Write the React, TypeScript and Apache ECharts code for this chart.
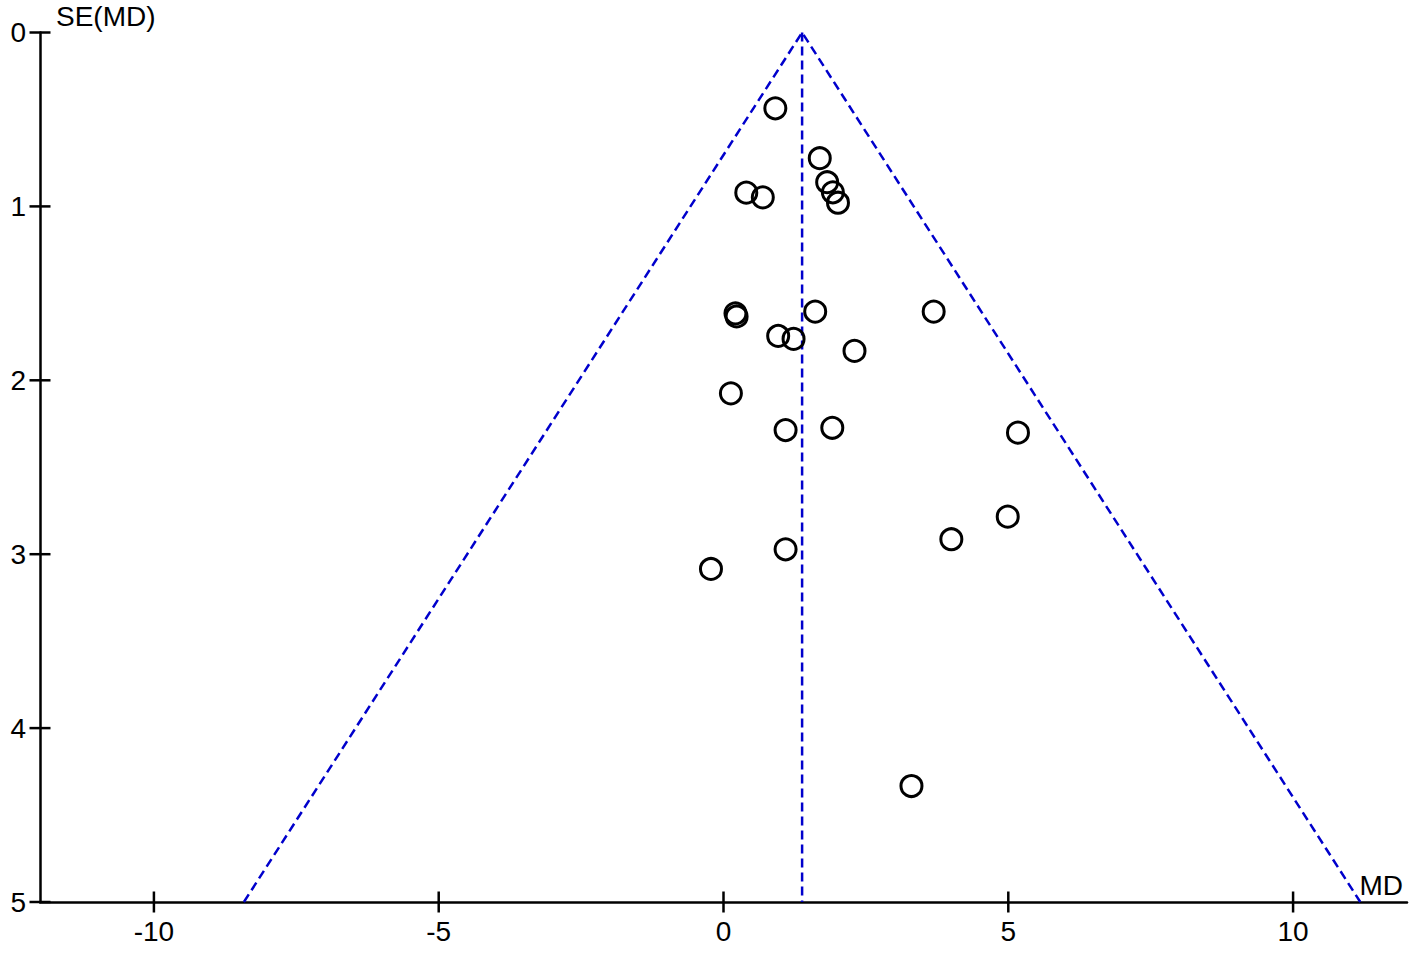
import React, { useEffect, useRef } from "react";
import * as echarts from "echarts";

// Study estimates: mean difference (MD) and its standard error SE(MD)
const mdValues = [
  0.91, 1.69, 1.82, 1.92, 2.01, 0.4, 0.69, 0.21, 0.23, 1.61, 3.69, 0.96, 1.23,
  2.3, 0.13, 1.09, 1.91, 5.17, 4.99, 4.0, 1.09, -0.22, 3.3,
];
const seValues = [
  0.436, 0.723, 0.861, 0.919, 0.979, 0.921, 0.948, 1.615, 1.633, 1.605, 1.605,
  1.745, 1.762, 1.831, 2.075, 2.286, 2.273, 2.301, 2.784, 2.914, 2.972, 3.085,
  4.333,
];
const pooledMD = 1.38;
const zCrit = 1.96;
const seMax = 5;
const xTicks = [-10, -5, 0, 5, 10];
const yTicks = [0, 1, 2, 3, 4, 5];
const xMin = -12;
const xMax = 12;

const FONT = "'Liberation Sans', Arial, sans-serif";

export default function App() {
  const ref = useRef<HTMLDivElement>(null);

  useEffect(() => {
    if (!ref.current) return;
    const chart = echarts.init(ref.current, null, { renderer: "svg" });

    const points = mdValues.map((m, i) => [m, seValues[i]]);
    const funnel = [
      [pooledMD - zCrit * seMax, seMax],
      [pooledMD, 0],
      [pooledMD + zCrit * seMax, seMax],
    ];
    const centre = [
      [pooledMD, 0],
      [pooledMD, seMax],
    ];
    const dash = { color: "#0000CC", width: 2.5, type: [9, 5] as number[] };

    chart.setOption({
      animation: false,
      backgroundColor: "#ffffff",
      grid: { left: 40, right: 10, top: 32.5, bottom: 53 },
      xAxis: {
        type: "value",
        min: xMin,
        max: xMax,
        name: "MD",
        nameLocation: "end",
        nameGap: -4,
        nameTextStyle: {
          fontFamily: FONT,
          fontSize: 28,
          color: "#000",
          align: "right",
          verticalAlign: "bottom",
          padding: [0, 0, 3, 0],
        },
        splitLine: { show: false },
        axisLine: { show: true, onZero: false, lineStyle: { color: "#000", width: 2.5 } },
        axisTick: { show: false },
        axisLabel: {
          customValues: xTicks,
          margin: 15,
          fontFamily: FONT,
          fontSize: 28,
          color: "#000",
        },
      },
      yAxis: {
        type: "value",
        min: 0,
        max: seMax,
        interval: 1,
        inverse: true,
        name: "SE(MD)",
        nameLocation: "start",
        nameGap: 2,
        nameTextStyle: {
          fontFamily: FONT,
          fontSize: 28,
          color: "#000",
          align: "left",
          verticalAlign: "bottom",
          padding: [0, 0, 0, 16],
        },
        splitLine: { show: false },
        axisLine: { show: true, onZero: false, lineStyle: { color: "#000", width: 2.5 } },
        axisTick: { show: false },
        axisLabel: {
          margin: 14,
          fontFamily: FONT,
          fontSize: 28,
          color: "#000",
        },
      },
      series: [
        {
          type: "line",
          data: funnel,
          symbol: "none",
          lineStyle: dash,
          silent: true,
          z: 2,
        },
        {
          type: "line",
          data: centre,
          symbol: "none",
          lineStyle: dash,
          silent: true,
          z: 2,
        },
        {
          // crossing tick marks on the x axis
          type: "scatter",
          data: xTicks.map((t) => [t, seMax]),
          symbol: "rect",
          symbolSize: [2.5, 21],
          itemStyle: { color: "#000", opacity: 1 },
          clip: false,
          silent: true,
          z: 3,
        },
        {
          // crossing tick marks on the y axis
          type: "scatter",
          data: yTicks.map((t) => [xMin, t]),
          symbol: "rect",
          symbolSize: [21, 2.5],
          itemStyle: { color: "#000", opacity: 1 },
          clip: false,
          silent: true,
          z: 3,
        },
        {
          type: "scatter",
          data: points,
          symbol: "circle",
          symbolSize: 21,
          itemStyle: {
            color: "rgba(0,0,0,0)",
            borderColor: "#000",
            borderWidth: 3,
            opacity: 1,
          },
          z: 4,
        },
      ],
    });

    return () => chart.dispose();
  }, []);

  return (
    <div
      ref={ref}
      style={{ position: "absolute", left: 0, top: 0, width: 1417, height: 955, background: "#fff" }}
    />
  );
}
